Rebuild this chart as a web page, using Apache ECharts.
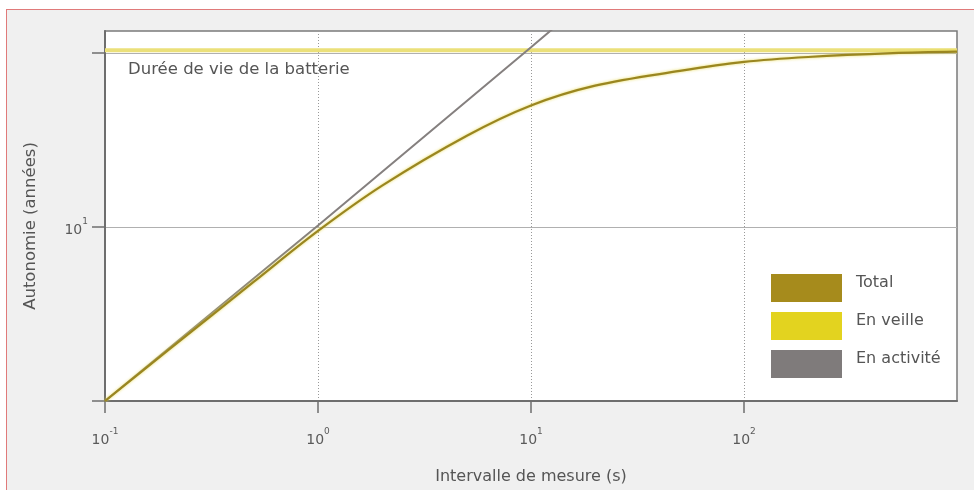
<!DOCTYPE html>
<html><head><meta charset="utf-8">
<script src="https://cdn.jsdelivr.net/npm/echarts@6/dist/echarts.min.js"></script>
<style>
html,body{margin:0;padding:0;background:#fff;width:974px;height:490px;overflow:hidden}
#frame{position:absolute;left:6px;top:9px;width:1000px;height:600px;border:1.5px solid #e07a7a;background:#f0f0f0}
#main{position:absolute;left:0;top:0;width:974px;height:490px}
</style></head>
<body>
<div id="frame"></div>
<div id="main"></div>
<script>
// Measurement interval (s)
const intervals = [0.1, 0.2, 0.5, 1, 2, 5, 10, 20, 50, 100, 200, 500, 1000];
// Total autonomy (years)
const totalValues = [1.0, 1.98, 4.85, 9.5, 17.3, 33.5, 50.0, 65.0, 79.0, 89.0, 95.0, 100.0, 102.0];
// Standby: battery lifetime (years)
const standbyX = [0.1, 1000];
const standbyValues = [104, 104];
// Active autonomy (years)
const activeX = [0.1, 1, 10, 20];
const activeValues = [1.0, 10.2, 108, 222];
const xTicks = [0.1, 1, 10, 100];
const xTickLabels = ['-1', '0', '1', '2'];
const yTicks = [1, 10, 100];
const yTickLabels = {10: '1'};
const batteryLabel = 'Durée de vie de la batterie';
const yAxisTitle = 'Autonomie (années)';

const zip = (xs, ys) => xs.map((x, i) => [x, ys[i]]);
const font = '"DejaVu Sans", "Liberation Sans", sans-serif';
const supRich = {
  a: {fontSize: 14, color: '#5a5a5a', fontFamily: font, lineHeight: 20, verticalAlign: 'bottom'},
  b: {fontSize: 9, color: '#5a5a5a', fontFamily: font, lineHeight: 20, verticalAlign: 'top'}
};
const chart = echarts.init(document.getElementById('main'), null, {renderer: 'canvas'});
chart.setOption({
  backgroundColor: 'transparent',
  animation: false,
  textStyle: {fontFamily: font},
  grid: {left: 105, top: 31, right: 17, bottom: 89, show: true, backgroundColor: '#fff', borderColor: '#7a7a7a', borderWidth: 1.5},
  xAxis: {
    type: 'log', logBase: 10, min: 0.1, max: 1000,
    name: 'Intervalle de mesure (s)', nameLocation: 'middle', nameGap: 68,
    nameTextStyle: {fontSize: 16, color: '#555', fontFamily: font},
    axisLine: {show: true, lineStyle: {color: '#6e6e6e', width: 2}},
    axisTick: {show: true, inside: false, length: 12, lineStyle: {color: '#6e6e6e', width: 1.5}, customValues: xTicks},
    axisLabel: {
      margin: 26, customValues: xTicks,
      formatter: v => { const i = xTicks.findIndex(t => Math.abs(t - v) / t < 1e-6); return i < 0 ? '' : '{a|10}{b|' + xTickLabels[i] + '}'; },
      rich: supRich
    },
    splitLine: {show: true, lineStyle: {color: '#999', type: [1, 2], width: 1}},
    minorTick: {show: false}
  },
  yAxis: {
    type: 'log', logBase: 10, min: 1, max: 134,
    axisLine: {show: true, lineStyle: {color: '#6e6e6e', width: 2}},
    axisTick: {show: true, inside: false, length: 13, lineStyle: {color: '#6e6e6e', width: 1.5}, customValues: yTicks},
    axisLabel: {
      margin: 17, customValues: yTicks,
      formatter: v => { const k = Math.round(v); return yTickLabels[k] ? '{a|10}{b|' + yTickLabels[k] + '}' : ''; },
      rich: supRich
    },
    splitLine: {show: true, lineStyle: {color: '#b0b0b0', type: 'solid', width: 1}}
  },
  legend: {
    orient: 'vertical', left: 771, top: 274, padding: 0, itemWidth: 71, itemHeight: 28, itemGap: 10,
    icon: 'rect',
    formatter: '{t|{name}}',
    textStyle: {fontSize: 16, color: '#555', fontFamily: font,
      rich: {t: {fontSize: 16, color: '#555', fontFamily: font, padding: [0, 0, 11, 9]}}},
    data: [
      {name: 'Total', itemStyle: {color: '#a68b1c'}},
      {name: 'En veille', itemStyle: {color: '#e3d31f'}},
      {name: 'En activité', itemStyle: {color: '#7f7b7b'}}
    ]
  },
  graphic: [
    {type: 'text', left: 128, top: 61, z: 10,
     style: {text: batteryLabel, fontSize: 16.5, fill: '#555', fontFamily: font}},
    {type: 'text', x: 31, y: 226, rotation: Math.PI / 2, z: 10,
     style: {text: yAxisTitle, fontSize: 16.5, fill: '#555', fontFamily: font, align: 'center', verticalAlign: 'middle'}}
  ],
  series: [
    {name: 'En veille', type: 'line', data: zip(standbyX, standbyValues), showSymbol: false, symbol: 'none',
     lineStyle: {color: '#ebe07a', width: 4}, itemStyle: {color: '#e3d31f'}, z: 2},
    {name: 'En activité', type: 'line', data: zip(activeX, activeValues), showSymbol: false, symbol: 'none',
     lineStyle: {color: '#85807f', width: 2}, itemStyle: {color: '#7f7b7b'}, z: 3},
    {name: 'Total', type: 'line', data: zip(intervals, totalValues), showSymbol: false, symbol: 'none', smooth: 0.35,
     lineStyle: {color: '#9a8620', width: 2.2, shadowColor: 'rgba(230,215,70,0.9)', shadowBlur: 3}, itemStyle: {color: '#a68b1c'}, z: 4}
  ]
});
</script>
</body></html>
